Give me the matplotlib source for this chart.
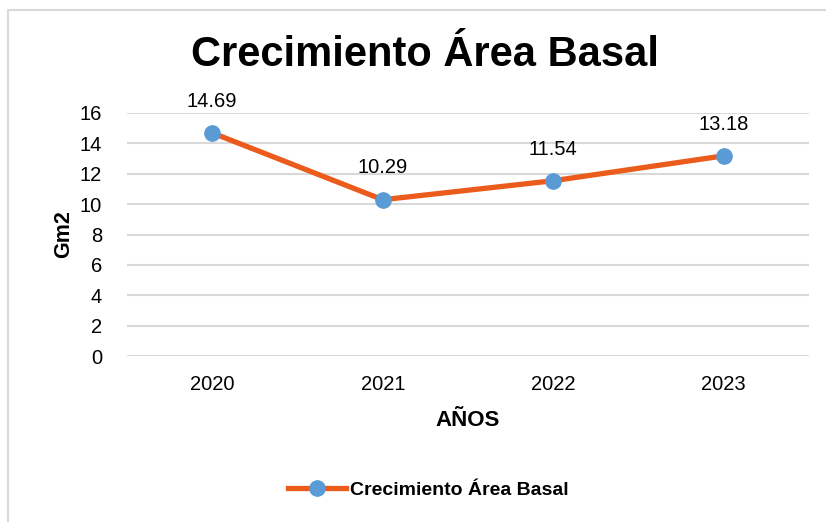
import matplotlib.pyplot as plt

years = ["2020", "2021", "2022", "2023"]
area_basal = [14.69, 10.29, 11.54, 13.18]
y_ticks = [0, 2, 4, 6, 8, 10, 12, 14, 16]

LINE_COLOR = "#EB5B1C"
MARKER_COLOR = "#5B9BD5"

plt.rcParams["font.family"] = ["Liberation Sans", "DejaVu Sans"]

fig = plt.figure(figsize=(8.26, 5.22), dpi=100)
# marco gris del gráfico
fig.patches.append(plt.Rectangle((8 / 826, -0.05), 1.0, 1 - 10 / 522 + 0.05,
                                 transform=fig.transFigure, fill=False,
                                 edgecolor="#D9D9D9", linewidth=1.5))

ax = fig.add_axes([127 / 826, 1 - 356 / 522, (809 - 127) / 826, (356 - 113) / 522])
x = list(range(len(years)))
ax.plot(x, area_basal, color=LINE_COLOR, linewidth=3.8, marker="o",
        markersize=11, markerfacecolor=MARKER_COLOR, markeredgecolor=MARKER_COLOR,
        label="Crecimiento Área Basal", zorder=3)
for xi, v in zip(x, area_basal):
    ax.annotate(f"{v:.2f}", (xi, v), xytext=(0, 16), textcoords="offset points",
                ha="center", va="bottom", fontsize=14.5)

ax.set_xlim(-0.5, len(years) - 0.5)
ax.set_ylim(0, 16)
ax.set_xticks(x)
ax.set_xticklabels(years, fontsize=14.5)
ax.set_yticks(y_ticks)
ax.tick_params(axis="y", labelsize=14.5, length=0, pad=18)
ax.tick_params(axis="x", length=0, pad=14)
ax.grid(axis="y", color="#D9D9D9", linewidth=1.5)
ax.set_axisbelow(True)
for s in ax.spines.values():
    s.set_visible(False)

ax.set_ylabel("Gm2", fontsize=15.5, fontweight="bold", labelpad=4)
ax.set_xlabel("AÑOS", fontsize=16, fontweight="bold", labelpad=11)
fig.text(425 / 826, 1 - 55 / 522, "Crecimiento Área Basal", ha="center", va="center",
         fontsize=30, fontweight="bold")

fig.legend(loc="center", bbox_to_anchor=(428 / 826, 1 - 490 / 522), frameon=False,
           prop={"size": 14, "weight": "bold"}, handlelength=3.0, handletextpad=0.2)

fig.savefig("out.png", dpi=100)
